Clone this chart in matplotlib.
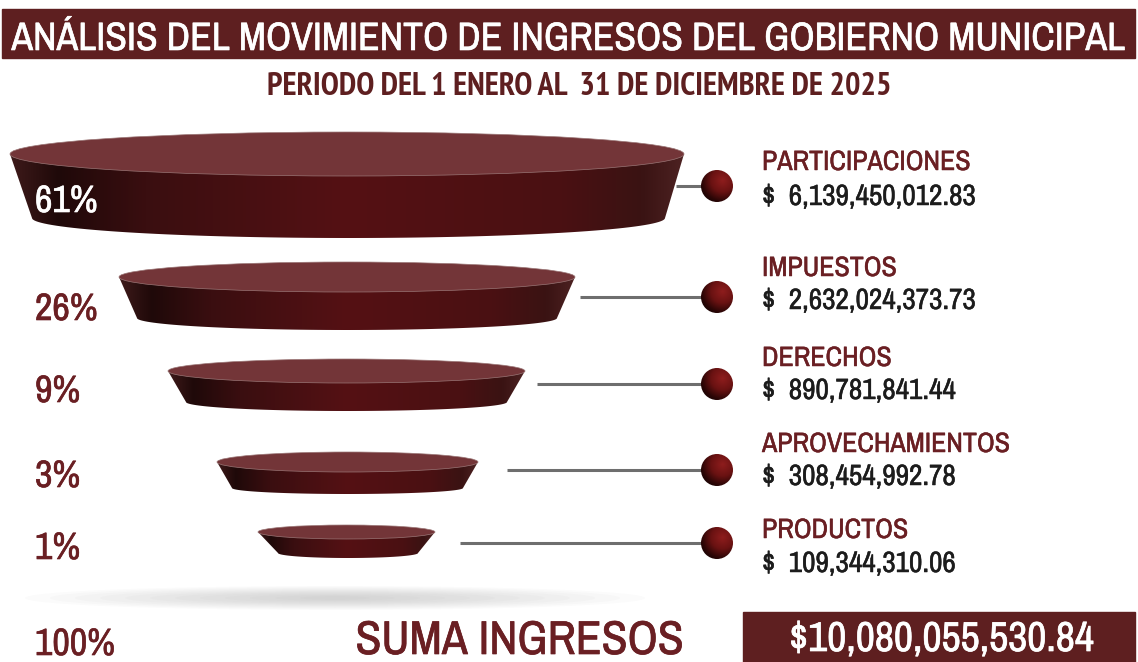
import os
import numpy as np
import matplotlib
matplotlib.use("Agg")
from matplotlib import pyplot as plt
from matplotlib import font_manager
import matplotlib.patheffects as pe
from matplotlib.patches import Ellipse, Polygon, Circle, Rectangle
from matplotlib.colors import LinearSegmentedColormap

# datos
titulo = "ANÁLISIS DEL MOVIMIENTO DE INGRESOS DEL GOBIERNO MUNICIPAL"
subtitulo = "PERIODO DEL 1 ENERO AL  31 DE DICIEMBRE DE 2025"
categorias = ['PARTICIPACIONES', 'IMPUESTOS', 'DERECHOS', 'APROVECHAMIENTOS', 'PRODUCTOS']
importes = [6139450012.83, 2632024373.73, 890781841.44, 308454992.78, 109344310.06]
porcentajes = [61, 26, 9, 3, 1]
total = sum(importes)


# busca una fuente condensada entre las instaladas
def fuente_condensada(pesos):
    preferidas = ['narrow', 'dejavusanscondensed', 'condensed']
    mejores = []
    for f in font_manager.fontManager.ttflist:
        base = os.path.basename(f.fname).lower().replace('-', '').replace('_', '')
        if f.style != 'normal' or any(s in base for s in ('semi', 'extra', 'ultra', 'light', 'thin',
                                                           'mono', 'serif', 'oblique', 'italic')):
            continue
        try:
            w = int(f.weight)
        except (TypeError, ValueError):
            w = 700 if 'bold' in str(f.weight) else 400
        if w not in pesos:
            continue
        for k, p in enumerate(preferidas):
            if p in base:
                mejores.append((k, pesos.index(w), f.fname))
                break
    if mejores:
        return font_manager.FontProperties(fname=sorted(mejores)[0][2])
    return font_manager.FontProperties(family='DejaVu Sans', weight='bold' if 700 in pesos[:1] else 'normal')


FUENTE = fuente_condensada([500, 400])
FUENTE_B = fuente_condensada([700, 600])


def grueso(color, w=0.35):
    # engrosa un poco el trazo de la letra
    return [pe.withStroke(linewidth=w, foreground=color)]


# colores
GUINDA = '#5e1f20'
TEXTO_GUINDA = '#6a1f23'
TAPA = '#733538'
cmap_lado = LinearSegmentedColormap.from_list('lado', [
    (0.0, '#3e1a1a'), (0.07, '#1f0909'), (0.2, '#3a0e10'), (0.5, '#551114'),
    (0.82, '#4a1012'), (0.94, '#3a1313'), (1.0, '#4d2222')])
cmap_bola = LinearSegmentedColormap.from_list('bola', [
    (0.0, '#8e1d1d'), (0.45, '#6a1212'), (0.8, '#2c0606'), (1.0, '#150303')])

# geometria de los discos (pixeles)
tapa_izq = [10, 119, 168, 217, 258]
tapa_der = [684, 575, 525, 478, 435]
tapa_y = [154, 277, 371, 462, 532]
tapa_ry = [22, 15, 12, 10, 7]
base_izq = [32, 137, 186, 232, 278]
base_der = [665, 557, 507, 463, 418]
base_y = [218, 318, 402, 488, 553]
base_ry = [20, 12, 9, 6, 5]
linea_x0 = [676, 580, 537, 507, 460]
bola_y = [186, 297, 384, 470, 543]
bola_x, bola_r = 717, 16
nombre_y = [170, 276, 366, 452, 538]
valor_y = [205, 309, 399, 485, 572]
pct_y = [212, 320, 402, 487, 559]

fig = plt.figure(figsize=(11.38, 6.62), dpi=100)
ax = fig.add_axes([0, 0, 1, 1])
ax.set_xlim(0, 1138)
ax.set_ylim(662, 0)
ax.axis('off')
renderer = fig.canvas.get_renderer()


def ajustar(textos, ancho):
    # escala el grupo para que el primer texto mida 'ancho' pixeles
    bb = textos[0].get_window_extent(renderer)
    f = ancho / bb.width
    for t in textos:
        t.set_fontsize(t.get_fontsize() * f)


# encabezado
ax.add_patch(Rectangle((2, 9), 1133, 49, color=GUINDA, zorder=1))
t = ax.text(568, 50, titulo, color='white', ha='center', va='baseline', fontsize=28,
            fontproperties=FUENTE, zorder=2, path_effects=grueso('white', 0.45))
ajustar([t], 1113)
t = ax.text(579, 95, subtitulo, color=GUINDA, ha='center', va='baseline', fontsize=20,
            fontproperties=FUENTE_B)
ajustar([t], 622)

# sombra
for k in range(12):
    f = 1 - k / 12
    ax.add_patch(Ellipse((335, 598), 600 * f + 20, 22 * f + 2, color='#9a9a9a', alpha=0.04, lw=0))

grad = np.linspace(0, 1, 256).reshape(1, -1)
yy, xx = np.mgrid[-1:1:200j, -1:1:200j]
radial = np.clip(np.hypot(xx - 0.35, yy + 0.35) / 1.6, 0, 1)

nombres, valores, pcts = [], [], []
for i in range(len(categorias)):
    # cuerpo del disco
    t_arco = np.linspace(np.pi, 0, 80)
    bcx = (base_izq[i] + base_der[i]) / 2
    brx = (base_der[i] - base_izq[i]) / 2
    pts = [(tapa_izq[i], tapa_y[i]), (base_izq[i], base_y[i])]
    pts += list(zip(bcx + brx * np.cos(t_arco), base_y[i] + base_ry[i] * np.sin(t_arco)))
    pts += [(base_der[i], base_y[i]), (tapa_der[i], tapa_y[i])]
    lado = Polygon(pts, closed=True, fc='none', ec='none')
    ax.add_patch(lado)
    im = ax.imshow(grad, cmap=cmap_lado, aspect='auto', interpolation='bilinear',
                   extent=[tapa_izq[i], tapa_der[i], base_y[i] + base_ry[i], tapa_y[i]], zorder=3)
    im.set_clip_path(lado)
    ax.add_patch(Ellipse(((tapa_izq[i] + tapa_der[i]) / 2, tapa_y[i]), tapa_der[i] - tapa_izq[i],
                         2 * tapa_ry[i], fc=TAPA, ec='#9a7676', lw=0.5, zorder=4))

    # conector y bola
    ax.plot([linea_x0[i], bola_x], [bola_y[i], bola_y[i]], color='#6e6e6e', lw=2.2,
            solid_capstyle='butt', zorder=2)
    bola = Circle((bola_x, bola_y[i]), bola_r, fc='none', ec='none')
    ax.add_patch(bola)
    im = ax.imshow(radial, cmap=cmap_bola, aspect='auto', interpolation='bilinear',
                   extent=[bola_x - bola_r, bola_x + bola_r, bola_y[i] + bola_r, bola_y[i] - bola_r],
                   zorder=5)
    im.set_clip_path(bola)

    # textos
    nombres.append(ax.text(762, nombre_y[i], categorias[i], color=TEXTO_GUINDA, fontsize=21,
                           va='baseline', fontproperties=FUENTE, path_effects=grueso(TEXTO_GUINDA)))
    valores.append(ax.text(762, valor_y[i], '$  {:,.2f}'.format(importes[i]), color='#1c1c1c',
                           fontsize=21, va='baseline', fontproperties=FUENTE,
                           path_effects=grueso('#1c1c1c')))
    c = 'white' if i == 0 else TEXTO_GUINDA
    pcts.append(ax.text(35, pct_y[i], '{}%'.format(porcentajes[i]), fontsize=29, va='baseline',
                        color=c, zorder=6, fontproperties=FUENTE, path_effects=grueso(c, 0.45)))

# pie
pcts.insert(0, ax.text(35, 655, '{}%'.format(sum(porcentajes)), color=TEXTO_GUINDA, fontsize=29,
                       va='baseline', fontproperties=FUENTE, path_effects=grueso(TEXTO_GUINDA, 0.45)))
ajustar(nombres, 208)
ajustar(valores, 213)
ajustar(pcts, 80)
t = ax.text(520, 654, 'SUMA INGRESOS', color=TEXTO_GUINDA, ha='center', va='baseline', fontsize=36,
            fontproperties=FUENTE, path_effects=grueso(TEXTO_GUINDA, 0.5))
ajustar([t], 328)
ax.add_patch(Rectangle((743, 612), 392, 52, color=GUINDA, zorder=1))
t = ax.text(941, 651, '${:,.2f}'.format(total), color='white', ha='center', va='baseline',
            fontsize=32, zorder=2, fontproperties=FUENTE, path_effects=grueso('white', 0.5))
ajustar([t], 305)

ax.set_xlim(0, 1138)
ax.set_ylim(662, 0)
fig.savefig('out.png', dpi=100)
